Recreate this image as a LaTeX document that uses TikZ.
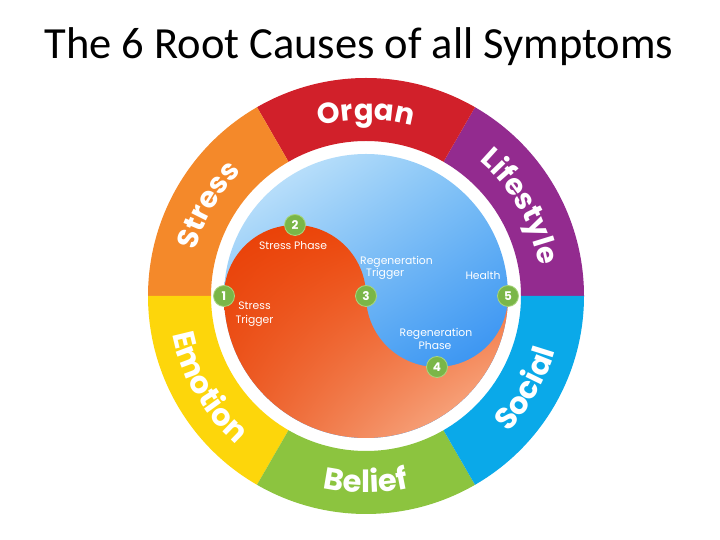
\documentclass[tikz,border=0pt]{standalone}
\usepackage{fontspec}
\setmainfont{Poppins}
\newfontfamily\titlefont{Carlito}
\usetikzlibrary{decorations.text,calc,shadings}
\definecolor{organ}{HTML}{D1202A}
\definecolor{stress}{HTML}{F4892A}
\definecolor{emotion}{HTML}{FDD60B}
\definecolor{belief}{HTML}{8CC43F}
\definecolor{social}{HTML}{0AA9E9}
\definecolor{life}{HTML}{932B8F}
\definecolor{dotgreen}{HTML}{7AB648}
\definecolor{dotrim}{HTML}{A9D67F}
\definecolor{bul}{HTML}{D6EEFC}
\definecolor{bur}{HTML}{7CC0F6}
\definecolor{bll}{HTML}{4AA6F3}
\definecolor{blr}{HTML}{1A7FF0}
\definecolor{rul}{HTML}{E93F06}
\definecolor{rur}{HTML}{EF4F10}
\definecolor{rll}{HTML}{EC5A22}
\definecolor{rlr}{HTML}{FAC0A0}
\newcommand\ringfont{\fontsize{29}{29}\selectfont\bfseries}
\newcommand\ringfontb{\fontsize{30.5}{30.5}\selectfont\bfseries}
\tikzset{
  dotnode/.style={circle, fill=dotgreen, draw=dotrim, line width=0.8pt, minimum size=21pt, inner sep=0pt,
    text=white, font=\fontsize{12}{12}\selectfont\bfseries},
  lbl/.style={text=white, font=\fontsize{10.8}{10.8}\selectfont, inner sep=0pt, anchor=base},
  ringtop/.style={decorate, decoration={text along path, text align=center, text color=white, text={|\ringfont|#1}}},
  ringbot/.style={decorate, decoration={text along path, text align=center, text color=white, text={|\ringfontb|#1}}},
}
\begin{document}
\begin{tikzpicture}[x=1pt,y=1pt]
\useasboundingbox (0,0) rectangle (720,540);
\fill[white] (0,0) rectangle (720,540);
\node[font=\titlefont\fontsize{44.5}{44.5}\selectfont, anchor=base, inner sep=0pt] (title) at (359,481) {The 6 Root Causes of all Symptoms};
\coordinate (C) at (366,244);
% ring
\foreach \a/\col [evaluate=\a as \b using \a+60] in {0/life,60/organ,120/stress,180/emotion,240/belief,300/social}
  \fill[\col, shift={(C)}] (\a:218) arc[start angle=\a, end angle=\b, radius=218] -- (\b:155) arc[start angle=\b, end angle=\a, radius=155] -- cycle;
% ring texts
\path[shift={(C)}, ringtop={Organ}] (120:176) arc[start angle=120, end angle=60, radius=176];
\path[shift={(C)}, ringtop={Stress}] (180:176) arc[start angle=180, end angle=120, radius=176];
\path[shift={(C)}, ringtop={Lifestyle}] (60:176) arc[start angle=60, end angle=0, radius=176];
\path[shift={(C)}, ringbot={Emotion}] (180:197) arc[start angle=180, end angle=240, radius=197];
\path[shift={(C)}, ringbot={Belief}] (240:197) arc[start angle=240, end angle=300, radius=197];
\path[shift={(C)}, ringbot={Social}] (300:197) arc[start angle=300, end angle=360, radius=197];
% disc
\shade[shift={(C)}, upper left=bul, upper right=bur, lower left=bll, lower right=blr] (0,0) circle[radius=142];
\shade[shift={(C)}, upper left=rul, upper right=rur, lower left=rll, lower right=rlr]
  (-142,0) arc[start angle=180, end angle=0, radius=71] arc[start angle=180, end angle=360, radius=71]
  arc[start angle=0, end angle=-180, radius=142] -- cycle;
% dots
\node[dotnode] (d1) at ($(C)+(-142,0)$) {1};
\node[dotnode] (d2) at ($(C)+(-71,71)$) {2};
\node[dotnode] (d3) at (C) {3};
\node[dotnode] (d4) at ($(C)+(71,-71)$) {4};
\node[dotnode] (d5) at ($(C)+(142,0)$) {5};
% labels
\node[lbl] (sp) at (293,290) {Stress Phase};
\node[lbl, anchor=base west] (rt1) at (360,275) {Regeneration};
\node[lbl, anchor=base west] (rt2) at (366,263) {Trigger};
\node[lbl] (hl) at (483,260) {Health};
\node[lbl] (st1) at (254.5,230) {Stress};
\node[lbl] (st2) at (254.5,216) {Trigger};
\node[lbl] (rp1) at (436,203) {Regeneration};
\node[lbl] (rp2) at (435,190) {Phase};
\end{tikzpicture}
\end{document}
